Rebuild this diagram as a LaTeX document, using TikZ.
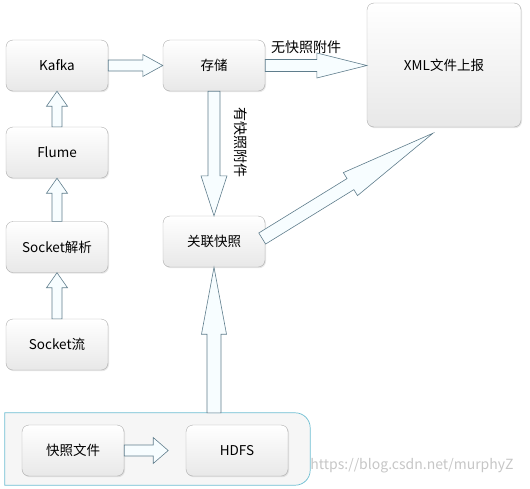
\documentclass[tikz,border=0pt]{standalone}
\usepackage{fontspec}
\setmainfont{Noto Sans CJK SC}
\usetikzlibrary{calc,shadows}

\definecolor{grouprim}{RGB}{110,190,210}
\definecolor{arrowrim}{RGB}{95,125,140}

\tikzset{
  box/.style={draw=gray!65, rounded corners=7pt, top color=white, bottom color=gray!18,
    minimum width=102pt, minimum height=51pt, inner sep=0pt,
    drop shadow={opacity=0.2,shadow xshift=1pt,shadow yshift=-1.2pt},
    font=\fontsize{13.5}{15}\selectfont},
  blockarr/.style={draw=arrowrim, fill=cyan!3, line width=0.6pt, line join=miter},
  lbl/.style={inner sep=0pt, font=\fontsize{14}{16}\selectfont}
}

% fat hollow arrow: start, end, half shaft, half head, head length
\newcommand{\fatarrow}[5]{%
  \coordinate (ha) at ($(#2)!#5!(#1)$);
  \draw[blockarr] ($(#1)!#3!90:(#2)$) -- ($(ha)!#3!90:(#2)$) -- ($(ha)!#4!90:(#2)$)
    -- (#2) -- ($(ha)!#4!-90:(#2)$) -- ($(ha)!#3!-90:(#2)$) -- ($(#1)!#3!-90:(#2)$) -- cycle;
}

\begin{document}
\begin{tikzpicture}[x=1pt,y=1pt]
\useasboundingbox (0,0) rectangle (530,-488);

% HDFS group
\node[minimum width=305pt, minimum height=72pt] (group) at (157.5,-449) {};
\draw[draw=grouprim, fill=gray!7, line width=0.7pt] (group.north west)
  -- ($(group.north east)+(-15,0)$) arc[start angle=90,end angle=0,radius=15pt]
  -- ($(group.south east)+(0,15)$) arc[start angle=0,end angle=-90,radius=15pt]
  -- (group.south west) -- cycle;

% boxes
\node[box] (kafka) at (57,-65.5) {Kafka};
\node[box] (store) at (214,-65.5) {存储};
\node[box, minimum width=154pt, minimum height=124pt] (xml) at (444,-65) {XML文件上报};
\node[box] (flume) at (57,-152.5) {Flume};
\node[box] (parse) at (57,-247) {Socket解析};
\node[box] (stream) at (57,-344.5) {Socket流};
\node[box] (link) at (214,-241.5) {关联快照};
\node[box] (snapfile) at (73,-450.5) {快照文件};
\node[box] (hdfs) at (237,-450.5) {HDFS};

% arrows
\coordinate (xmlin) at (xml.west |- store.east);
\coordinate (linkout) at ($(link.east)+(-3,3)$);
\coordinate (xmlbelow) at ($(xml.south)+(-11,-6)$);
\coordinate (groupout) at (link.south |- group.north);
\coordinate (hdfsin) at ($(snapfile.east)+(44,0)$);

\fatarrow{kafka.east}{store.west}{5.5pt}{11pt}{20pt}
\fatarrow{flume.north}{kafka.south}{5pt}{10.5pt}{15pt}
\fatarrow{parse.north}{flume.south}{5pt}{10.5pt}{15pt}
\fatarrow{stream.north}{parse.south}{5pt}{10.5pt}{15pt}
\fatarrow{store.east}{xmlin}{6pt}{12.5pt}{50pt}
\fatarrow{store.south}{link.north}{6pt}{13pt}{40pt}
\fatarrow{groupout}{link.south}{7pt}{12.5pt}{67pt}
\fatarrow{linkout}{xmlbelow}{6.5pt}{13.5pt}{97pt}
\fatarrow{snapfile.east}{hdfsin}{5.5pt}{13pt}{15pt}

% labels
\node[lbl] (nosnap) at (306,-47) {无快照附件};
\node[lbl, rotate=-90] (hassnap) at (241,-142) {有快照附件};
\node[text=gray!45, inner sep=0pt, font=\fontsize{14}{16}\selectfont] (mark) at (412,-466) {https://blog.csdn.net/murphyZ};
\end{tikzpicture}
\end{document}
